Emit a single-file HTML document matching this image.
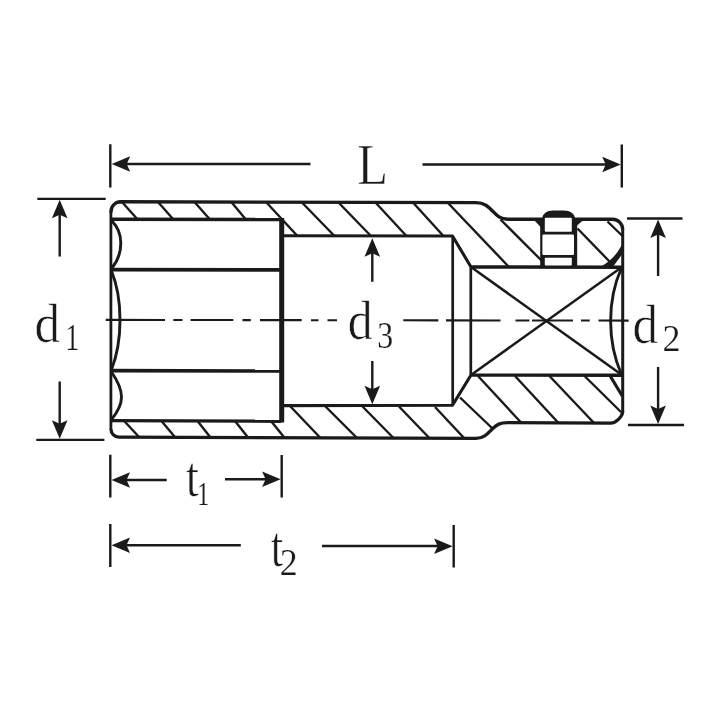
<!DOCTYPE html>
<html lang="en">
<head>
<meta charset="utf-8">
<title>Socket dimensions</title>
<style>
html,body{margin:0;padding:0;background:#fff;}
body{width:720px;height:720px;overflow:hidden;}
svg{display:block;will-change:transform;}
text{font-family:"Liberation Serif",serif;fill:#1a1a1a;stroke:#fff;stroke-width:0.6px;}
.k{stroke:#1a1a1a;fill:none;stroke-width:3.4;stroke-linecap:butt;stroke-linejoin:round;}
.m{stroke:#1a1a1a;fill:none;stroke-width:2.9;stroke-linejoin:round;}
.h{stroke:#1a1a1a;fill:none;stroke-width:2.4;}
.d{stroke:#1a1a1a;fill:none;stroke-width:2.4;}
.c{stroke:#1a1a1a;fill:none;stroke-width:2.1;}
.a{fill:#1a1a1a;stroke:none;}
text.s{stroke-width:0.2px;}
</style>
</head>
<body>
<svg width="720" height="720" viewBox="0 0 720 720" role="img" aria-label="Deep socket dimension drawing: L, d1, d2, d3, t1, t2">
<rect width="720" height="720" fill="#fff"/>

<!-- hatching, upper wall -->
<g class="h">
<path d="M122,202 L137.2,219"/>
<path d="M158,202 L173,219"/>
<path d="M194.5,202 L209.5,219"/>
<path d="M231.3,202 L245.5,219"/>
<path d="M266,202 L297,235.5"/>
<path d="M301.5,202 L334,235.5"/>
<path d="M338,202 L370.5,235.5"/>
<path d="M375,202 L406,235.5"/>
<path d="M412.5,202 L443,235.5"/>
<path d="M448,203 L508.5,266.5"/>
<path d="M500.5,219.5 L542,261"/>
<path d="M577.5,228.5 L609.5,261.5"/>
<path d="M607.5,221.5 L622.5,236"/>
</g>
<!-- hatching, lower wall -->
<g class="h">
<path d="M124.2,421 L139.5,437.5"/>
<path d="M161.5,421 L175.3,437.5"/>
<path d="M197.5,421 L210.5,437.5"/>
<path d="M235,421 L248,437.5"/>
<path d="M271,421 L284.5,437.8"/>
<path d="M290,406 L320.5,438"/>
<path d="M325.5,406.5 L357,438"/>
<path d="M362.5,406.5 L393.5,438"/>
<path d="M399,406.5 L429.3,438"/>
<path d="M435,407 L464.5,438.5"/>
<path d="M460,397.5 L492.5,428.5"/>
<path d="M478,376 L521.5,423"/>
<path d="M515,376 L558.5,423"/>
<path d="M549.5,376 L594,423"/>
<path d="M584.5,376 L621,412"/>
</g>
<!-- outer profile -->
<path class="k" d="M119,201.8 L476,202.6 C484.5,202.6 488.5,206.8 492.5,211 C496.5,215.2 500,219.2 508,219.2 L612.6,219.3 A10.2,10.2 0 0 1 622.7,229.6"/>
<path class="k" style="stroke-width:3" d="M622.7,229 L622.7,412"/>
<path class="k" style="stroke-width:3.3" d="M622.7,411.2 C622.7,416.3 616,423.1 610.6,423.1 L508,422.6 C500,422.6 496.7,424.6 492.5,428.7 C488.3,432.8 484.5,438.3 476,438.3 L119,437.2 A8,8 0 0 1 111,429.3"/>
<path class="k" style="stroke-width:2.8" d="M110.9,430 L110.9,211"/>
<path class="k" d="M111,212.5 L111,211.5 A9.7,9.7 0 0 1 120.7,201.8 L122,201.8"/>

<!-- hexagon socket -->
<g class="k">
<path d="M111,219.3 L281,219.5"/>
<path d="M111,420.6 L281,421.2"/>
<path d="M111,269.6 L281,269.9" style="stroke-width:3.6"/>
<path d="M111,370.6 L281,371" style="stroke-width:3.6"/>
<path d="M281.7,218 L281.7,422.6" style="stroke-width:5"/>
</g>
<g class="m">
<path d="M111.5,220.5 C117,226 120.8,234 120.8,243 C120.8,252 117,262 111.5,268.5"/>
<path d="M111.5,271 C116,282 120,300 120,320 C120,340 116,358 111.5,369.5"/>
<path d="M111.5,372 C117,380 121.5,388 121.5,397 C121.5,406 116,414 111.5,419.5"/>
</g>

<!-- bore -->
<g class="k" style="stroke-width:3.1">
<path d="M283,235.7 L452.5,236 L470.7,266.5"/>
<path d="M283,405.6 L452.5,405.3 L470.7,375.5"/>
</g>
<g class="m" style="stroke-width:2.7">
<path d="M452.7,236 L452.7,405"/>
<path d="M470.8,266 L470.8,376"/>
</g>

<!-- square drive -->
<g class="k">
<path d="M470,267 L623,267.2"/>
<path d="M470,375.1 L623,375.3"/>
</g>
<g class="h" style="stroke-width:2.5">
<path d="M471,267 L622,375"/>
<path d="M471,375 L622,267"/>
<path style="stroke-width:2.9" d="M621.5,268 C607,300 607,342 621.5,374.5"/>
</g>
<path class="a" d="M623.5,241 C619,252 612.5,259.5 602,266 L613.5,266 L623.5,252.5 Z"/>
<path class="k" style="stroke-width:3.2" d="M610.5,376.5 L622.3,396"/>

<!-- retaining pin -->
<g>
<path class="a" d="M540.2,267 L540.2,219 L542.3,219 C542.3,213.5 547,210.5 553,210.5 L564,210.5 C570,210.5 575,213.5 575,219 L577.2,219 L577.2,267 Z"/>
<path class="a" d="M533.5,219.5 L541,219.5 L541,227.5 Z"/>
<path class="a" d="M584,219.5 L576.5,219.5 L576.5,226 Z"/>
<rect x="544.8" y="217.8" width="27" height="13.9" rx="1" fill="#fff"/>
<rect x="542.4" y="234.6" width="31.6" height="20.3" rx="1.2" fill="#fff"/>
<rect x="544.8" y="257.8" width="27" height="7.8" rx="0.8" fill="#fff"/>
</g>

<!-- centre line -->
<path class="c" d="M105.7,319.90 L165,319.98 M173.3,319.99 L182.5,320.00 M190.6,320.02 L233.3,320.07 M242.5,320.09 L250.8,320.10 M260,320.11 L301.7,320.16 M311,320.18 L318.5,320.19 M327.5,320.20 L337,320.21 M403.3,320.30 L438.3,320.35 M446,320.36 L500.5,320.43 M515.5,320.45 L529.4,320.47 M532,320.47 L573,320.53 M581,320.54 L589.7,320.55 M598.5,320.56 L628.6,320.60"/>
<!-- dimension L -->
<g class="d">
<path d="M110.3,144.2 V187.4 M621.8,144.5 V187.4"/>
<path d="M126,164 H310.5 M422.5,164.5 H606"/>
</g>
<path class="a" d="M111.7,164 L130.2,156.2 L126.7,164 L130.2,171.8 Z"/>
<path class="a" d="M620.7,164.5 L602.2,156.7 L605.7,164.5 L602.2,172.3 Z"/>
<!-- dimension d1 -->
<g class="d">
<path d="M37.3,198.9 H105.7 M36.3,439.9 H104.4"/>
<path d="M59.7,214 V256.5 M59.7,381.5 V424"/>
</g>
<path class="a" d="M59.7,199.8 L51.9,218.3 L59.7,214.8 L67.5,218.3 Z"/>
<path class="a" d="M59.7,438.8 L51.9,420.3 L59.7,423.8 L67.5,420.3 Z"/>
<!-- dimension d2 -->
<g class="d">
<path d="M627,218.5 H682.5 M628,425 H684"/>
<path d="M658.1,234 V276 M658.1,367 V410"/>
</g>
<path class="a" d="M658.1,219.6 L650.3,238.1 L658.1,234.6 L665.9,238.1 Z"/>
<path class="a" d="M658.1,423.9 L650.3,405.4 L658.1,408.9 L665.9,405.4 Z"/>
<!-- dimension d3 -->
<g class="d">
<path d="M372.3,252 V281.7 M372.3,361 V391"/>
</g>
<path class="a" d="M372.3,238.3 L364.5,256.8 L372.3,253.3 L380.1,256.8 Z"/>
<path class="a" d="M372.3,404.3 L364.5,385.8 L372.3,389.3 L380.1,385.8 Z"/>
<!-- dimension t1 -->
<g class="d">
<path d="M110.3,454.7 V497.5 M281.7,455 V497.5"/>
<path d="M126,480 H166.7 M225,479.3 H266"/>
</g>
<path class="a" d="M111.5,480 L130,472.2 L126.5,480 L130,487.8 Z"/>
<path class="a" d="M280.6,479.3 L262.1,471.5 L265.6,479.3 L262.1,487.1 Z"/>
<!-- dimension t2 -->
<g class="d">
<path d="M110.3,524 V567 M453.7,525 V567.5"/>
<path d="M126,545.3 H240.8 M322,546 H438"/>
</g>
<path class="a" d="M111.5,545.3 L130,537.5 L126.5,545.3 L130,553.1 Z"/>
<path class="a" d="M452.6,546.3 L434.1,538.5 L437.6,546.3 L434.1,554.1 Z"/>
<!-- labels -->
<text id="tL" transform="translate(357.24 184.10) scale(0.877 1)" font-size="57.56">L</text>
<text id="td1" transform="translate(34.46 341.70) scale(0.937 1)" font-size="54.61">d</text>
<text id="ts1" class="s" transform="translate(65.34 350.00) scale(0.760 1)" font-size="36.97">1</text>
<text id="td3" transform="translate(347.66 339.20) scale(0.911 1)" font-size="54.61">d</text>
<text id="ts3" class="s" transform="translate(377.24 347.61) scale(0.821 1)" font-size="38.81">3</text>
<text id="td2" transform="translate(632.61 342.75) scale(0.935 1)" font-size="54.61">d</text>
<text id="ts2" class="s" transform="translate(662.58 351.00) scale(0.946 1)" font-size="38.04">2</text>
<text id="tt1" transform="translate(185.77 496.33) scale(0.839 1)" font-size="56.77">t</text>
<text id="tt1s" class="s" transform="translate(197.02 504.75) scale(0.758 1)" font-size="32.95">1</text>
<text id="tt2" transform="translate(270.80 565.68) scale(0.788 1)" font-size="56.77">t</text>
<text id="tt2s" class="s" transform="translate(279.64 574.75) scale(0.960 1)" font-size="37.36">2</text>
</svg>
</body>
</html>
